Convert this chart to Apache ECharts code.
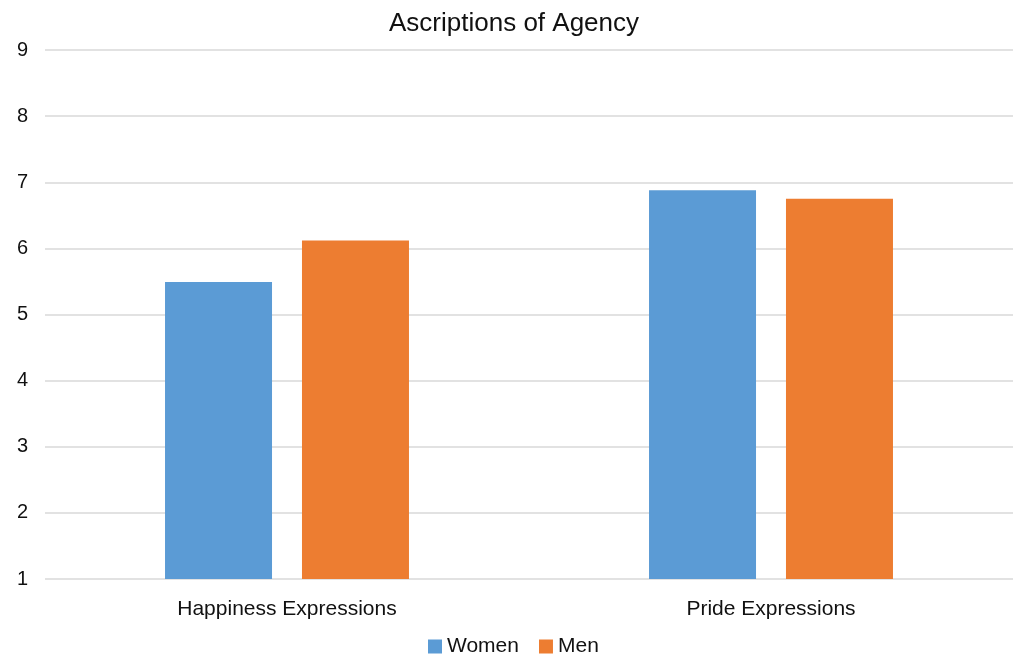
<!DOCTYPE html>
<html>
<head>
<meta charset="utf-8" />
<title>Ascriptions of Agency</title>
<style>html,body{margin:0;padding:0;background:#fff;}</style>
</head>
<body>
<div id="main" style="width:1017px;height:654px"></div>
<script src="https://cdn.jsdelivr.net/npm/echarts@6/dist/echarts.min.js"></script>
<script>
var categories = ['Happiness Expressions', 'Pride Expressions'];
var women = [5.49, 6.88];
var men = [6.12, 6.75];

var chart = echarts.init(document.getElementById('main'));
var font = 'Liberation Sans, Arial, Helvetica, sans-serif';

chart.setOption({
  animation: false,
  textStyle: { fontFamily: font },
  title: {
    text: 'Ascriptions of Agency',
    left: 384,
    top: 6,
    textStyle: { fontSize: 26, fontWeight: 'normal', color: '#111', fontFamily: font }
  },
  legend: {
    top: 631,
    left: 423,
    itemWidth: 14,
    itemHeight: 14,
    itemGap: 20,
    icon: 'rect',
    textStyle: { fontSize: 21, color: '#111', fontFamily: font },
    data: ['Women', 'Men']
  },
  grid: { left: 45, right: 4, top: 50, bottom: 75, containLabel: false },
  xAxis: {
    type: 'category',
    data: categories,
    axisLine: { show: false },
    axisTick: { show: false },
    axisLabel: { fontSize: 21, color: '#111', margin: 20 }
  },
  yAxis: {
    type: 'value',
    min: 1,
    max: 9,
    interval: 1,
    axisLine: { show: false },
    axisTick: { show: false },
    axisLabel: { fontSize: 20, color: '#111', margin: 17 },
    splitLine: { lineStyle: { color: '#d9d9d9', width: 1.5 } }
  },
  series: [
    {
      name: 'Women',
      type: 'bar',
      data: women,
      barWidth: 107,
      barGap: '28%',
      itemStyle: { color: '#5B9BD5' }
    },
    {
      name: 'Men',
      type: 'bar',
      data: men,
      barWidth: 107,
      itemStyle: { color: '#ED7D31' }
    }
  ]
});
</script>
</body>
</html>
